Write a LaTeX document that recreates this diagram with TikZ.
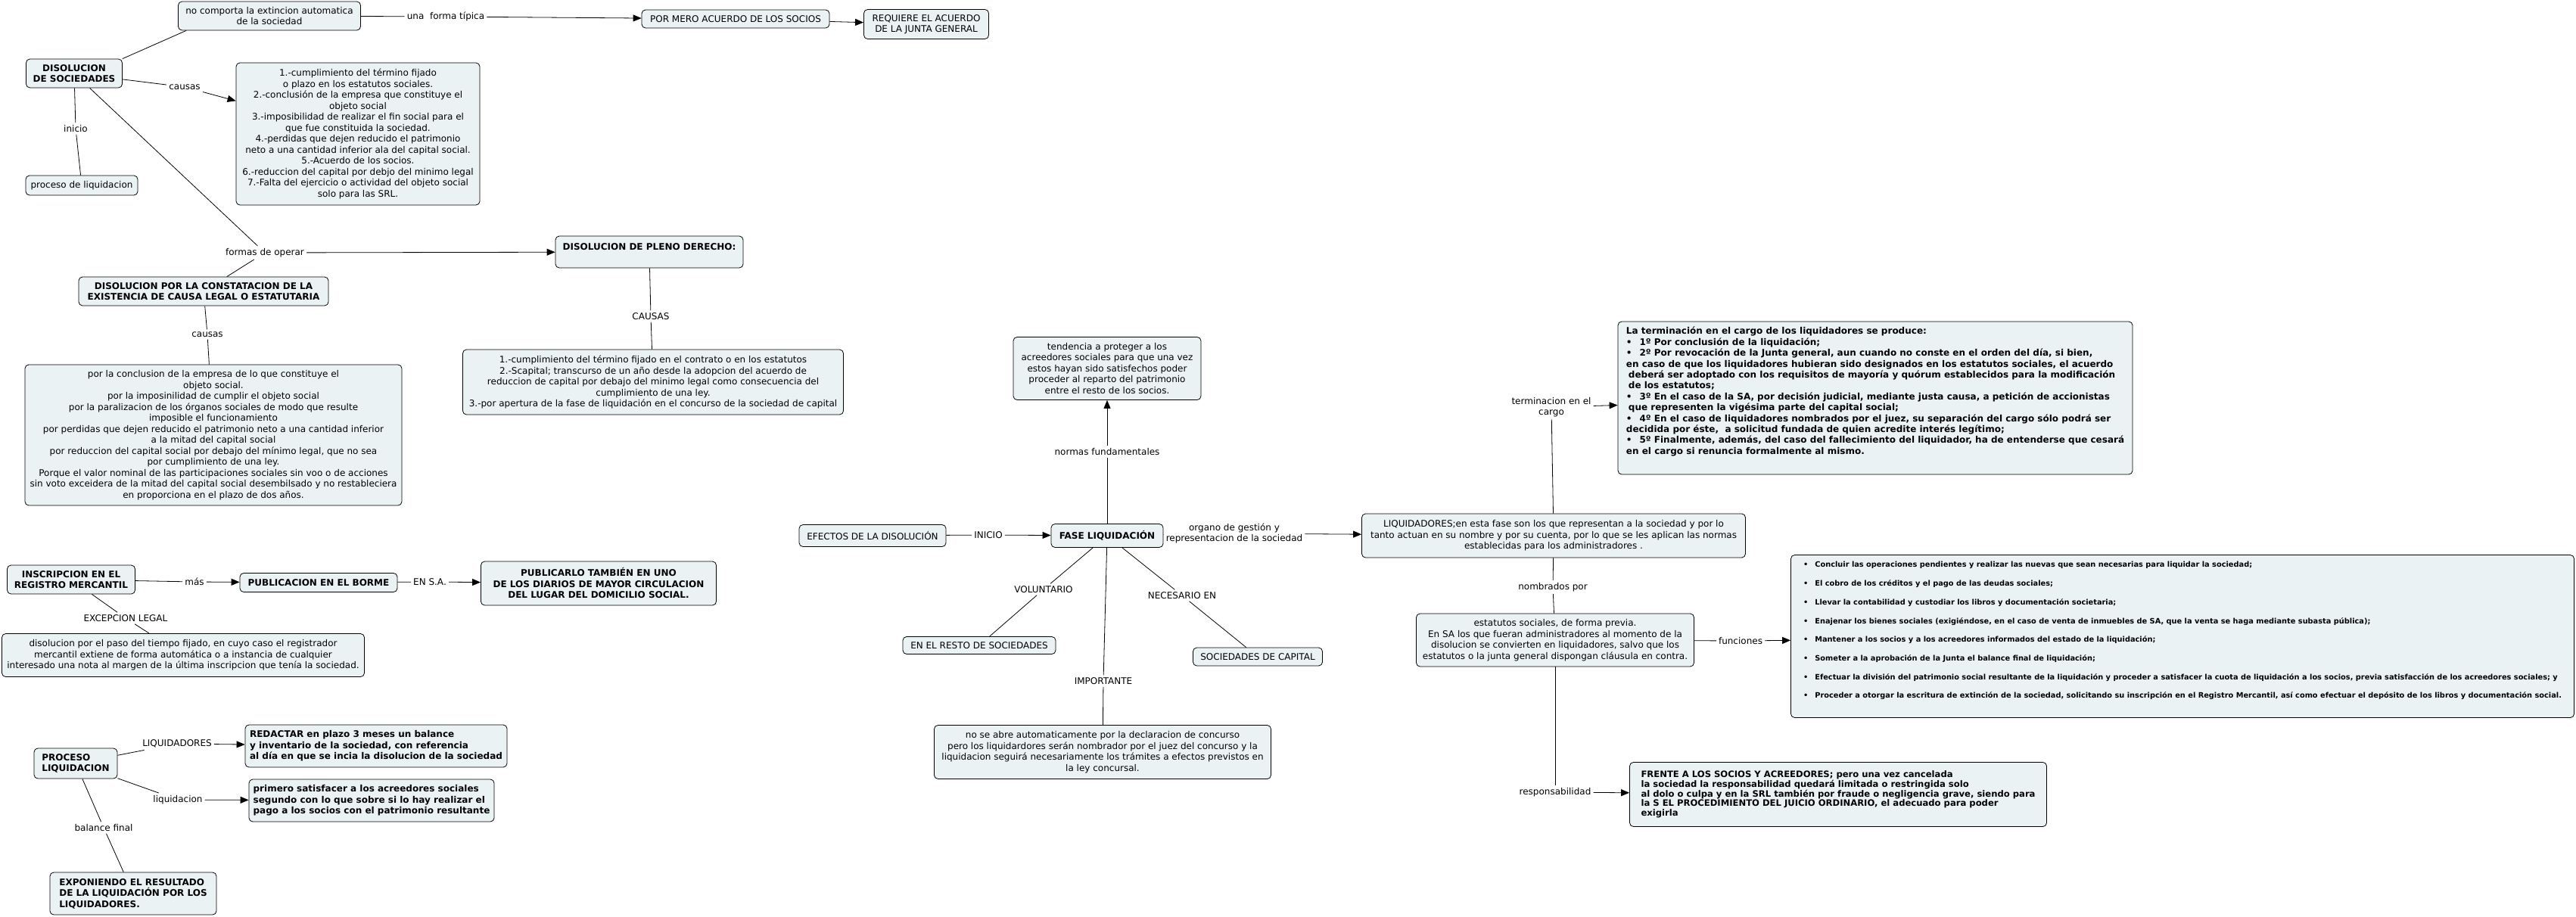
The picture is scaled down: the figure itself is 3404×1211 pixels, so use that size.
\documentclass[tikz,border=0pt]{standalone}
\usepackage{fontspec}
\setmainfont{DejaVu Sans}
\usepackage{xcolor}
\usepackage{tikz}
\usetikzlibrary{arrows.meta, positioning}

\definecolor{conceptfill}{RGB}{235,242,244}
\newcommand{\mapfont}{\fontsize{12}{14.5}\selectfont}

\begin{document}
\begin{tikzpicture}[
    x = 1pt, y = -1pt,
    concept/.style = {
        rectangle, draw=black, line width=0.8pt,
        rounded corners = 5pt,
        fill  = conceptfill,
        align = center,
        inner xsep = 4pt, inner ysep = 3pt,
        font  = \mapfont
    },
    boldconcept/.style = { concept, font = \mapfont\bfseries },
    boxsize/.style 2 args = { minimum width = #1pt, minimum height = #2pt },
    linkword/.style  = { inner sep = 3pt, align = center, font = \mapfont },
    link/.style      = { draw=black, line width=0.8pt },
    linkarrow/.style = { link, -{Triangle[length=11pt, width=9pt]} },
]

\useasboundingbox[fill=white] (0,0) rectangle (3404,1211);

%% ── Disolucion de sociedades ─────────────────────────────────────────────
\node[boldconcept, boxsize={127}{38}] (disol) at (98,97) {DISOLUCION\\DE SOCIEDADES};
\node[concept, boxsize={241}{38}] (nocomp) at (356,21)
    {no comporta la extincion automatica\\de la sociedad};
\node[linkword] (lforma) at (589,22) {una\ \ forma típica};
\node[concept, boxsize={248}{24}] (pormero) at (972,25) {POR MERO ACUERDO DE LOS SOCIOS};
\node[concept, boxsize={165}{39}] (requiere) at (1224,32) {REQUIERE EL ACUERDO\\DE LA JUNTA GENERAL};

\node[linkword] (lcausas) at (244,115) {causas};
\node[concept, boxsize={322}{188}] (causas) at (473,177) {%
    1.-cumplimiento del término fijado\\
    o plazo en los estatutos sociales.\\
    2.-conclusión de la empresa que constituye el\\
    objeto social\\
    3.-imposibilidad de realizar el fin social para el\\
    que fue constituida la sociedad.\\
    4.-perdidas que dejen reducido el patrimonio\\
    neto a una cantidad inferior ala del capital social.\\
    5.-Acuerdo de los socios.\\
    6.-reduccion del capital por debjo del minimo legal\\
    7.-Falta del ejercicio o actividad del objeto social\\
    solo para las SRL.};

\node[linkword] (linicio) at (100,170) {inicio};
\node[concept, boxsize={148}{26}] (proceso) at (108,245) {proceso de liquidacion};

\node[linkword] (lformas) at (350,334) {formas de operar};
\node[boldconcept, boxsize={248}{42}, align=left] (pleno) at (858,333)
    {DISOLUCION DE PLENO DERECHO:\\~};
\node[boldconcept, boxsize={330}{38}] (constat) at (269,385)
    {DISOLUCION POR LA CONSTATACION DE LA\\EXISTENCIA DE CAUSA LEGAL O ESTATUTARIA};

\node[linkword] (lcausasb) at (274,442) {causas};
\node[concept, boxsize={498}{186}] (bigcausas) at (282,575) {%
    por la conclusion de la empresa de lo que constituye el\\
    objeto social.\\
    por la imposinilidad de cumplir el objeto social\\
    por la paralizacion de los órganos sociales de modo que resulte\\
    imposible el funcionamiento\\
    por perdidas que dejen reducido el patrimonio neto a una cantidad inferior\\
    a la mitad del capital social\\
    por reduccion del capital social por debajo del mínimo legal, que no sea\\
    por cumplimiento de una ley.\\
    Porque el valor nominal de las participaciones sociales sin voo o de acciones\\
    sin voto exceidera de la mitad del capital social desembilsado y no restableciera\\
    en proporciona en el plazo de dos años.};

\node[linkword] (lcausasc) at (860,418) {CAUSAS};
\node[concept, boxsize={503}{86}] (plenocausas) at (863,505) {%
    1.-cumplimiento del término fijado en el contrato o en los estatutos\\
    2.-Scapital; transcurso de un año desde la adopcion del acuerdo de\\
    reduccion de capital por debajo del minimo legal como consecuencia del\\
    cumplimiento de una ley.\\
    3.-por apertura de la fase de liquidación en el concurso de la sociedad de capital};

%% ── Fase de liquidacion ──────────────────────────────────────────────────
\node[concept, boxsize={248}{83}] (tendencia) at (1463,487) {%
    tendencia a proteger a los\\
    acreedores sociales para que una vez\\
    estos hayan sido satisfechos poder\\
    proceder al reparto del patrimonio\\
    entre el resto de los socios.};
\node[linkword] (lnormas) at (1463,597) {normas fundamentales};
\node[concept, boxsize={194}{29}] (efectos) at (1153,708) {EFECTOS DE LA DISOLUCIÓN};
\node[linkword] (liniciob) at (1306,707) {INICIO};
\node[boldconcept, boxsize={148}{31}] (fase) at (1463,708) {FASE LIQUIDACIÓN};
\node[linkword] (lorgano) at (1631,705) {organo de gestión y\\representacion de la sociedad};

\node[linkword] (lvolunt) at (1379,779) {VOLUNTARIO};
\node[concept, boxsize={202}{23}] (resto) at (1294,853) {EN EL RESTO DE SOCIEDADES};
\node[linkword] (lnecesario) at (1562,787) {NECESARIO EN};
\node[concept, boxsize={171}{24}] (soccap) at (1662,868) {SOCIEDADES DE CAPITAL};
\node[linkword] (limport) at (1458,900) {IMPORTANTE};
\node[concept, boxsize={445}{71}] (noseabre) at (1457,994) {%
    no se abre automaticamente por la declaracion de concurso\\
    pero los liquidardores serán nombrador por el juez del concurso y la\\
    liquidacion seguirá necesariamente los trámites a efectos previstos en\\
    la ley concursal.};

%% ── Liquidadores ─────────────────────────────────────────────────────────
\node[concept, boxsize={507}{58}] (liquid) at (2053,708) {%
    LIQUIDADORES;en esta fase son los que representan a la sociedad y por lo\\
    tanto actuan en su nombre y por su cuenta, por lo que se les aplican las normas\\
    establecidas para los administradores .};

\node[linkword] (lterm) at (2050,538) {terminacion en el\\cargo};
\node[boldconcept, boxsize={680}{202}, align=left,
      font=\fontsize{12}{14.4}\selectfont\bfseries] (termin) at (2478,526) {%
    La terminación en el cargo de los liquidadores se produce:\\
    •\hspace{10pt}1º Por conclusión de la liquidación;\\
    •\hspace{10pt}2º Por revocación de la Junta general, aun cuando no conste en el orden del día, si bien,\\
    en caso de que los liquidadores hubieran sido designados en los estatutos sociales, el acuerdo\\
    \hspace*{3pt}deberá ser adoptado con los requisitos de mayoría y quórum establecidos para la modificación\\
    \hspace*{3pt}de los estatutos;\\
    •\hspace{10pt}3º En el caso de la SA, por decisión judicial, mediante justa causa, a petición de accionistas\\
    \hspace*{3pt}que representen la vigésima parte del capital social;\\
    •\hspace{10pt}4º En el caso de liquidadores nombrados por el juez, su separación del cargo sólo podrá ser\\
    decidida por éste,\ \ a solicitud fundada de quien acredite interés legítimo;\\
    •\hspace{10pt}5º Finalmente, además, del caso del fallecimiento del liquidador, ha de entenderse que cesará\\
    en el cargo si renuncia formalmente al mismo.\\[5pt]~};

\node[linkword] (lnombr) at (2052,776) {nombrados por};
\node[concept, boxsize={367}{70}] (estatutos) at (2055,846) {%
    estatutos sociales, de forma previa.\\
    En SA los que fueran administradores al momento de la\\
    disolucion se convierten en liquidadores, salvo que los\\
    estatutos o la junta general dispongan cláusula en contra.};

\node[linkword] (lfunc) at (2300,847) {funciones};
\node[boldconcept, boxsize={1035}{215}, align=left,
      font=\fontsize{9.8}{24.7}\selectfont\bfseries] (funcs) at (2884,841) {%
    •\hspace{9pt}Concluir las operaciones pendientes y realizar las nuevas que sean necesarias para liquidar la sociedad;\\
    •\hspace{9pt}El cobro de los créditos y el pago de las deudas sociales;\\
    •\hspace{9pt}Llevar la contabilidad y custodiar los libros y documentación societaria;\\
    •\hspace{9pt}Enajenar los bienes sociales (exigiéndose, en el caso de venta de inmuebles de SA, que la venta se haga mediante subasta pública);\\
    •\hspace{9pt}Mantener a los socios y a los acreedores informados del estado de la liquidación;\\
    •\hspace{9pt}Someter a la aprobación de la Junta el balance final de liquidación;\\
    •\hspace{9pt}Efectuar la división del patrimonio social resultante de la liquidación y proceder a satisfacer la cuota de liquidación a los socios, previa satisfacción de los acreedores sociales; y\\
    •\hspace{9pt}Proceder a otorgar la escritura de extinción de la sociedad, solicitando su inscripción en el Registro Mercantil, así como efectuar el depósito de los libros y documentación social.\\[-8pt]~};

\node[linkword] (lrespon) at (2055,1047) {responsabilidad};
\node[boldconcept, boxsize={551}{85}, align=left,
      font=\fontsize{11.6}{12.8}\selectfont\bfseries] (frente) at (2429,1050) {%
    FRENTE A LOS SOCIOS Y ACREEDORES; pero una vez cancelada\\
    la sociedad la responsabilidad quedará limitada o restringida solo\\
    al dolo o culpa y en la SRL también por fraude o negligencia grave, siendo para\\
    la S EL PROCEDIMIENTO DEL JUICIO ORDINARIO, el adecuado para poder\\
    exigirla};

%% ── Inscripcion ──────────────────────────────────────────────────────────
\node[boldconcept, boxsize={169}{38}] (inscrip) at (94,766) {INSCRIPCION EN EL\\REGISTRO MERCANTIL};
\node[linkword] (lmas) at (257,769) {más};
\node[boldconcept, boxsize={208}{25}] (borme) at (421,770) {PUBLICACION EN EL BORME};
\node[linkword] (lensa) at (568,769) {EN S.A.};
\node[boldconcept, boxsize={311}{58}] (publicarlo) at (791,771)
    {PUBLICARLO TAMBIÉN EN UNO\\DE LOS DIARIOS DE MAYOR CIRCULACION\\DEL LUGAR DEL DOMICILIO SOCIAL.};
\node[linkword] (lexcep) at (166,817) {EXCEPCION LEGAL};
\node[concept, boxsize={479}{57}] (disolbox) at (242,866) {%
    disolucion por el paso del tiempo fijado, en cuyo caso el registrador\\
    mercantil extiene de forma automática o a instancia de cualquier\\
    interesado una nota al margen de la última inscripcion que tenía la sociedad.};

%% ── Proceso de liquidacion ───────────────────────────────────────────────
\node[boldconcept, boxsize={110}{40}, align=left] (procliq) at (100,1009) {PROCESO\\LIQUIDACION};
\node[linkword] (lliqd) at (234,983) {LIQUIDADORES};
\node[boldconcept, boxsize={346}{56}, align=left] (redactar) at (497,986) {%
    REDACTAR en plazo 3 meses un balance\\
    y inventario de la sociedad, con referencia\\
    al día en que se incia la disolucion de la sociedad};
\node[linkword] (lliqn) at (235,1057) {liquidacion};
\node[boldconcept, boxsize={324}{56}, align=left] (primero) at (491,1058) {%
    primero satisfacer a los acreedores sociales\\
    segundo con lo que sobre si lo hay realizar el\\
    pago a los socios con el patrimonio resultante};
\node[linkword] (lbalance) at (137,1094) {balance final};
\node[boldconcept, boxsize={220}{56}, align=left] (expon) at (176,1181)
    {EXPONIENDO EL RESULTADO\\DE LA LIQUIDACIÓN POR LOS\\LIQUIDADORES.};

%% ── Connectors ───────────────────────────────────────────────────────────
\draw[link] (disol.north east) -- ([xshift=11pt]nocomp.south west);
\draw[link] (nocomp) -- (lforma);
\draw[linkarrow] (lforma) -- (pormero);
\draw[linkarrow] (pormero) -- (requiere);
\draw[link] (disol) -- (lcausas);
\draw[linkarrow] (lcausas) -- (causas);
\draw[link] (disol) -- (linicio);
\draw[link] (linicio) -- (proceso);
\draw[link] (disol) -- (lformas);
\draw[link] (lformas) -- (constat);
\draw[linkarrow] (lformas) -- (pleno);
\draw[link] (constat) -- (lcausasb);
\draw[link] (lcausasb) -- (bigcausas);
\draw[link] (pleno) -- (lcausasc);
\draw[link] (lcausasc) -- (plenocausas);

\draw[link] (efectos) -- (liniciob);
\draw[linkarrow] (liniciob) -- (fase);
\draw[link] (fase) -- (lnormas);
\draw[linkarrow] (lnormas) -- (tendencia);
\draw[link] (fase) -- (lorgano);
\draw[linkarrow] (lorgano) -- (liquid);
\draw[link] (fase) -- (lvolunt);
\draw[link] (lvolunt) -- (resto);
\draw[link] (fase) -- (lnecesario);
\draw[link] (lnecesario) -- (soccap);
\draw[link] (fase) -- (limport);
\draw[link] (limport) -- (noseabre);

\draw[link] (liquid) -- (lterm);
\draw[linkarrow] (lterm) -- (termin);
\draw[link] (liquid) -- (lnombr);
\draw[link] (lnombr) -- (estatutos);
\draw[link] (estatutos) -- (lfunc);
\draw[linkarrow] (lfunc) -- (funcs);
\draw[link] (estatutos) -- (lrespon);
\draw[linkarrow] (lrespon) -- (frente);

\draw[link] (inscrip) -- (lmas);
\draw[linkarrow] (lmas) -- (borme);
\draw[link] (borme) -- (lensa);
\draw[linkarrow] (lensa) -- (publicarlo);
\draw[link] (inscrip) -- (lexcep);
\draw[link] (lexcep) -- (disolbox);

\draw[link] (procliq) -- (lliqd);
\draw[linkarrow] (lliqd) -- (redactar);
\draw[link] (procliq) -- (lliqn);
\draw[linkarrow] (lliqn) -- (primero);
\draw[link] (procliq) -- (lbalance);
\draw[link] (lbalance) -- (expon);

\end{tikzpicture}
\end{document}
